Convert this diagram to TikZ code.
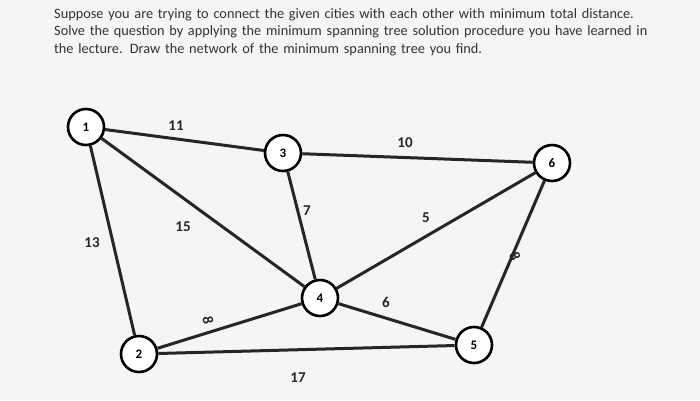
\documentclass[tikz,border=0pt]{standalone}
\usepackage{fontspec}
\setmainfont{Carlito}
\begin{document}
\begin{tikzpicture}[x=1pt,y=-1pt,
  city/.style={circle,draw=black,line width=2.6pt,fill=white,minimum size=36pt,inner sep=0pt,font=\bfseries\fontsize{13}{13}\selectfont},
  edge/.style={line width=3pt,draw=black!85},
  lab/.style={font=\bfseries\fontsize{15}{15}\selectfont,text=black!85}]
\fill[black!4] (0,0) rectangle (700,400);
\useasboundingbox (0,0) rectangle (700,400);
\node[anchor=north west,align=left,text width=600pt,font=\fontsize{14.3}{17.5}\selectfont,text=black!80,inner sep=0pt] (q) at (54,8)
{Suppose you are trying to connect the given cities with each other with minimum total distance. Solve the question by applying the minimum spanning tree solution procedure you have learned in the lecture. Draw the network of the minimum spanning tree you find.};
\node[city] (n1) at (86,127) {1};
\node[city] (n3) at (283,153) {3};
\node[city] (n6) at (552,163) {6};
\node[city] (n4) at (320,298) {4};
\node[city] (n5) at (474,345) {5};
\node[city] (n2) at (139,354) {2};
\draw[edge] (n1) -- (n3);
\draw[edge] (n3) -- (n6);
\draw[edge] (n1) -- (n2);
\draw[edge] (n1) -- (n4);
\draw[edge] (n3) -- (n4);
\draw[edge] (n4) -- (n6);
\draw[edge] (n4) -- (n5);
\draw[edge] (n6) -- (n5);
\draw[edge] (n2) -- (n4);
\draw[edge] (n2) -- (n5);
\node[lab] (l11) at (176,126) {11};
\node[lab] (l10) at (405,143) {10};
\node[lab] (l13) at (92,243) {13};
\node[lab] (l15) at (183,227) {15};
\node[lab] (l7) at (307,211) {7};
\node[lab] (l5) at (426,218) {5};
\node[lab,rotate=-70] (l8a) at (515,256) {8};
\node[lab] (l6) at (386,302) {6};
\node[lab,rotate=-80] (l8b) at (208,320) {8};
\node[lab] (l17) at (298,378) {17};
\end{tikzpicture}
\end{document}
